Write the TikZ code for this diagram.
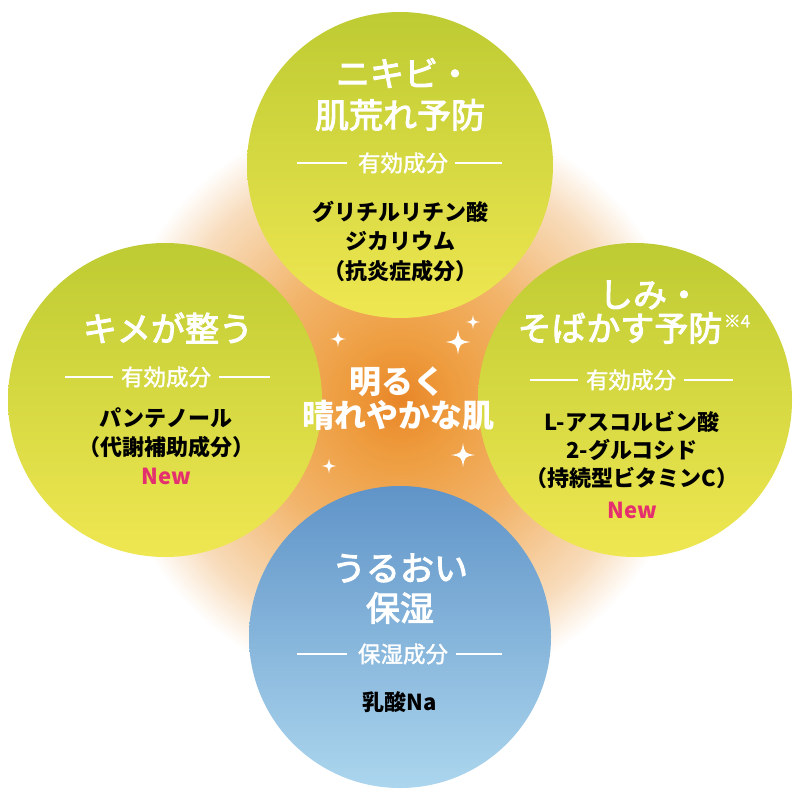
\documentclass[tikz,border=0pt]{standalone}
\usepackage{fontspec}
\setmainfont{Noto Sans CJK JP}
\newfontfamily\medfont[FakeBold=3]{Noto Sans CJK JP}
\newfontfamily\keyfont[FakeBold=1.5]{Noto Sans CJK JP}
\definecolor{gtop}{RGB}{190,203,50}
\definecolor{gbot}{RGB}{239,231,82}
\definecolor{btop}{RGB}{96,148,200}
\definecolor{bbot}{RGB}{172,214,238}
\definecolor{newpink}{RGB}{228,48,110}
\definecolor{oA}{RGB}{232,134,40}
\definecolor{oB}{RGB}{238,156,62}
\definecolor{oC}{RGB}{242,180,106}
\definecolor{oD}{RGB}{248,220,188}
\pgfdeclareradialshading{glow}{\pgfpoint{0bp}{0bp}}{color(0bp)=(oA); color(4.5bp)=(oB); color(12bp)=(oC); color(20.5bp)=(oD); color(24.6bp)=(white); color(50bp)=(white)}
\tikzset{
  greenball/.style={circle, inner sep=0pt, draw=none, top color=gtop, bottom color=gbot},
  blueball/.style={circle, inner sep=0pt, draw=none, top color=btop, bottom color=bbot},
  titletext/.style={text=white, inner sep=0pt, font=\medfont\fontsize{34}{38}\selectfont},
  keytext/.style={text=white, inner sep=0pt, font=\keyfont\fontsize{22.5}{26}\selectfont},
  ingr/.style={text=black, inner sep=0pt, font=\bfseries\fontsize{22}{26}\selectfont},
  newtext/.style={text=newpink, inner sep=0pt, font=\bfseries\fontsize{22}{26}\selectfont},
  ctext/.style={text=white, inner sep=0pt, font=\bfseries\fontsize{32}{38}\selectfont},
  divider/.style={white, line width=1.2pt},
  sparkle/.pic={\fill[white] (0,-1) .. controls (0.14,-0.14) .. (1,0) .. controls (0.14,0.14) .. (0,1) .. controls (-0.14,0.14) .. (-1,0) .. controls (-0.14,-0.14) .. cycle;}
}
\begin{document}
\begin{tikzpicture}[x=1pt,y=-1pt]
\useasboundingbox (0,0) rectangle (800,800);
\fill[white] (0,0) rectangle (800,800);
% glow
\shade[shading=glow] (400,400) circle (300pt);
% circles
\node[greenball, minimum size=306pt] (ctop) at (400,165) {};
\node[greenball, minimum size=314pt] (cleft) at (165,400) {};
\node[greenball, minimum size=314pt] (cright) at (635,400) {};
\node[blueball, minimum size=302pt] (cbot) at (400,637) {};
% sparkles
\pic[scale=8] at (338,339) {sparkle};
\pic[scale=7] at (473,322) {sparkle};
\pic[scale=12.5] at (458,342) {sparkle};
\pic[scale=12] at (463,455) {sparkle};
\pic[scale=7.5] at (329,466) {sparkle};
% center text
\node[ctext] (c1) at (397,382) {明るく};
\node[ctext] (c2) at (398,415) {晴れやかな肌};
% top circle
\node[titletext] (t1) at (404,73) {ニキビ・};
\node[titletext] (t2) at (400,115) {肌荒れ予防};
\node[keytext] (tk) at (403,163) {有効成分};
\draw[divider] (297,163) -- (347,163);
\draw[divider] (455,163) -- (502,163);
\node[ingr] (ti1) at (400,212) {グリチルリチン酸};
\node[ingr] (ti2) at (400,241) {ジカリウム};
\node[ingr] (ti3) at (400,271) {（抗炎症成分）};
% left circle
\node[titletext] (l1) at (168,328) {キメが整う};
\node[keytext] (lk) at (166,377) {有効成分};
\draw[divider] (65,377) -- (113,377);
\draw[divider] (219,377) -- (270,377);
\node[ingr] (li1) at (166,418) {パンテノール};
\node[ingr] (li2) at (166,447) {（代謝補助成分）};
\node[newtext] (lnew) at (166,476) {New};
% right circle
\node[titletext] (r1) at (650,295) {しみ・};
\node[titletext] (r2) at (620,328) {そばかす予防};
\node[text=white, inner sep=0pt, font=\keyfont\fontsize{17}{20}\selectfont, anchor=west] (r2s) at ([xshift=1pt]r2.east |- 0,321) {※4};
\node[keytext] (rk) at (631,380) {有効成分};
\draw[divider] (530,380) -- (578,380);
\draw[divider] (684,380) -- (733,380);
\node[ingr] (ri1) at (632,422) {L-アスコルビン酸};
\node[ingr] (ri2) at (632,450) {2-グルコシド};
\node[ingr] (ri3) at (632,478) {（持続型ビタミンC）};
\node[newtext] (rnew) at (632,510) {New};
% bottom circle
\node[titletext] (b1) at (400,568) {うるおい};
\node[titletext] (b2) at (400,608) {保湿};
\node[keytext] (bk) at (403,654) {保湿成分};
\draw[divider] (297,654) -- (347,654);
\draw[divider] (456,654) -- (502,654);
\node[ingr] (bi) at (400,702) {乳酸Na};
\end{tikzpicture}
\end{document}
